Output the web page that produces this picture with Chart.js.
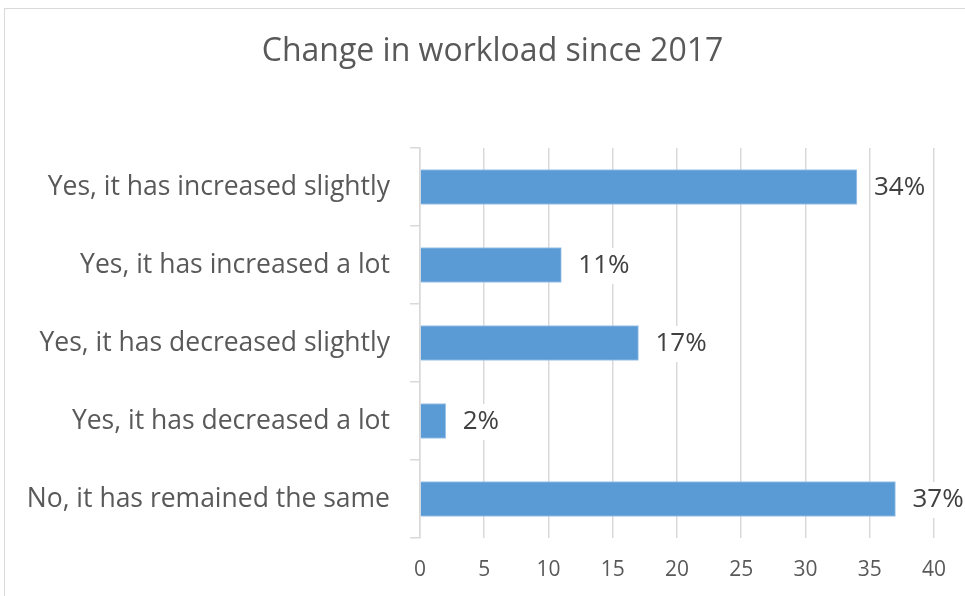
<!DOCTYPE html>
<html>
<head>
<meta charset="utf-8">
<title>Change in workload since 2017</title>
<script src="https://cdn.jsdelivr.net/npm/chart.js@4.4.0/dist/chart.umd.min.js"></script>
<style>
    html, body { margin: 0; padding: 0; background: #fff; }
    .frame {
        position: absolute;
        left: 4px;
        top: 8px;
        width: 980px;
        height: 600px;
        border-left: 1px solid #d9d9d9;
        border-top: 1px solid #d9d9d9;
    }
    .wrap { position: absolute; left: 0; top: 0; width: 965px; height: 596px; }
</style>
</head>
<body>
<div class="frame"></div>
<div class="wrap"><canvas id="workloadChart"></canvas></div>
<script>
const categories = [
    'Yes, it has increased slightly',
    'Yes, it has increased a lot',
    'Yes, it has decreased slightly',
    'Yes, it has decreased a lot',
    'No, it has remained the same'
];
const shares = [34, 11, 17, 2, 37];
const xTicks = [0, 5, 10, 15, 20, 25, 30, 35, 40];
const chartTitle = 'Change in workload since 2017';

const FONT = "'Open Sans', 'Noto Sans', sans-serif";

// percent labels to the right of each bar, on a white box like office charts
const barLabels = {
    id: 'barLabels',
    afterDatasetsDraw(chart) {
        const ctx = chart.ctx;
        const meta = chart.getDatasetMeta(0);
        ctx.save();
        ctx.font = '26px ' + FONT;
        ctx.textAlign = 'left';
        ctx.textBaseline = 'middle';
        meta.data.forEach((bar, i) => {
            const text = shares[i] + '%';
            const x = bar.x + 17;
            const y = bar.y + 1;
            const w = ctx.measureText(text).width;
            ctx.fillStyle = '#ffffff';
            ctx.fillRect(x - 2, y - 18, w + 4, 36);
            ctx.fillStyle = '#404040';
            ctx.fillText(text, x, y);
        });
        ctx.restore();
    }
};

// the built-in title only reserves the space; the text sits a little right of centre
const titleText = {
    id: 'titleText',
    afterDraw(chart) {
        const ctx = chart.ctx;
        const tb = chart.titleBlock;
        ctx.save();
        ctx.font = '32px ' + FONT;
        ctx.fillStyle = '#595959';
        ctx.textAlign = 'center';
        ctx.textBaseline = 'middle';
        ctx.fillText(chartTitle, chart.width / 2 + 10, tb.top + 19 + 19.2);
        ctx.restore();
    }
};

document.addEventListener('DOMContentLoaded', function() {
    const ctx = document.getElementById('workloadChart').getContext('2d');
    new Chart(ctx, {
        type: 'bar',
        data: {
            labels: categories,
            datasets: [{
                data: shares,
                backgroundColor: '#5b9bd5',
                borderColor: '#9fc5ea',
                borderWidth: 1,
                barThickness: 35
            }]
        },
        plugins: [barLabels, titleText],
        options: {
            indexAxis: 'y',
            responsive: true,
            maintainAspectRatio: false,
            animation: false,
            layout: {
                padding: { top: 14, right: 28, bottom: 0, left: 0 }
            },
            plugins: {
                legend: { display: false },
                tooltip: { enabled: false },
                title: {
                    display: true,
                    text: chartTitle,
                    color: 'rgba(0,0,0,0)',
                    font: { family: FONT, size: 32, weight: 'normal' },
                    padding: { top: 19, bottom: 76.6 }
                }
            },
            scales: {
                x: {
                    min: 0,
                    max: 40,
                    afterBuildTicks(scale) {
                        scale.ticks = xTicks.map(v => ({ value: v }));
                    },
                    afterFit(scale) {
                        scale.height = 58;
                    },
                    grid: {
                        color: '#d9d9d9',
                        lineWidth: 1.5,
                        drawTicks: false
                    },
                    border: { display: false },
                    ticks: {
                        color: '#595959',
                        padding: 19,
                        font: { family: FONT, size: 21 }
                    }
                },
                y: {
                    afterFit(scale) {
                        scale.width = 420;
                    },
                    grid: {
                        offset: true,
                        drawOnChartArea: false,
                        drawTicks: true,
                        tickLength: 10,
                        color: '#d9d9d9',
                        lineWidth: 1.5
                    },
                    border: { display: true, color: '#d9d9d9', width: 1.5 },
                    ticks: {
                        color: '#595959',
                        padding: 20,
                        font: { family: FONT, size: 26.5 }
                    }
                }
            }
        }
    });
});
</script>
</body>
</html>
